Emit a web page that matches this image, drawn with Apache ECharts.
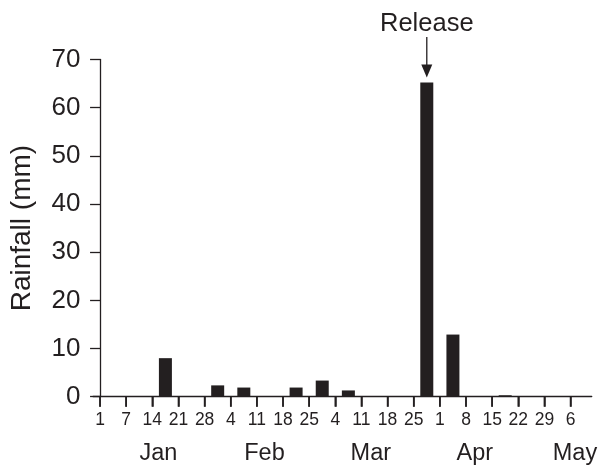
<!DOCTYPE html>
<html>
<head>
<meta charset="utf-8">
<script src="https://cdn.jsdelivr.net/npm/echarts@6/dist/echarts.min.js"></script>
<style>
html,body{margin:0;padding:0;background:#fff;}
#c{width:600px;height:466px;}
</style>
</head>
<body>
<div id="c"></div>
<script>
// Weekly tick labels (day of month at each week boundary)
var tickLabels = ['1','7','14','21','28','4','11','18','25','4','11','18','25','1','8','15','22','29','6'];
// Month names under the day labels
var months = ['Jan','Feb','Mar','Apr','May'];
// Position of each month name, in week-boundary units
var monthAt = [2.23, 6.29, 10.36, 14.34, 18.17];
// Weekly rainfall (mm), one value per week between consecutive ticks
var weeklyRain = [0, 0, 8.0, 0, 2.35, 1.9, 0, 1.9, 3.35, 1.3, 0, 0, 65.2, 12.9, 0, 0.3, 0, 0];
var releaseWeek = 12;
var releaseText = 'Release';

var ink = '#231f20';
var font = '"Liberation Sans", Arial, Helvetica, sans-serif';

var tickIdx = tickLabels.map(function (_, i) { return i; });
var barData = weeklyRain.map(function (v, i) { return [i + 0.5, v]; });
var tickData = tickIdx.map(function (i) { return [i, 0]; });

var chart = echarts.init(document.getElementById('c'), null, {renderer: 'canvas'});
chart.setOption({
  animation: false,
  backgroundColor: '#fff',
  textStyle: {fontFamily: font, color: ink},
  grid: {left: 87.3, right: 4, top: 59.5, bottom: 69.3, containLabel: false},
  xAxis: [{
    type: 'value',
    min: -0.27, max: 18.81,
    splitLine: {show: false},
    axisLine: {show: true, onZero: false, lineStyle: {color: ink, width: 1.3}},
    axisTick: {show: true, inside: false, length: 10, customValues: tickIdx.slice(), lineStyle: {color: ink, width: 1.5}},
    axisLabel: {
      show: true, customValues: tickIdx.slice(), margin: 14,
      fontSize: 17.5, fontFamily: font, color: ink,
      formatter: function (v) { return tickLabels[Math.round(v)]; }
    }
  }, {
    type: 'value',
    position: 'bottom',
    min: -0.27, max: 18.81,
    splitLine: {show: false},
    axisLine: {show: false},
    axisTick: {show: false},
    axisLabel: {
      show: true, customValues: monthAt.slice(), margin: 45,
      fontSize: 23.5, fontFamily: font, color: ink,
      formatter: function (v) {
        var best = 0;
        monthAt.forEach(function (m, k) { if (Math.abs(m - v) < Math.abs(monthAt[best] - v)) best = k; });
        return months[best];
      }
    }
  }],
  yAxis: {
    type: 'value',
    min: 0, max: 70, interval: 10,
    name: 'Rainfall (mm)',
    nameLocation: 'middle',
    nameGap: 57,
    nameTextStyle: {fontSize: 28, fontFamily: font, color: ink},
    splitLine: {show: false},
    axisLine: {show: true, lineStyle: {color: ink, width: 1.3}},
    axisTick: {show: true, inside: false, length: 10, lineStyle: {color: ink, width: 1.3}},
    axisLabel: {fontSize: 26, fontFamily: font, color: ink, margin: 12.5}
  },
  series: [{
    type: 'bar',
    xAxisIndex: 0,
    data: barData,
    barWidth: 13,
    itemStyle: {color: ink}
  }, {
    // week-boundary tick marks hanging below the x axis
    type: 'scatter',
    xAxisIndex: 0,
    data: tickData,
    clip: false,
    silent: true,
    z: 10,
    symbol: 'rect',
    symbolSize: [1.6, 10],
    symbolOffset: [0, 5],
    itemStyle: {color: ink, opacity: 1}
  }]
});

// Release annotation anchored to the release bar
var p = chart.convertToPixel({xAxisIndex: 0, yAxisIndex: 0}, barData[releaseWeek]);
var tipY = p[1] - 5;
var headH = 13, headW = 11;
var lineTop = p[1] - 45.7;
chart.setOption({graphic: [
  {type: 'line', silent: true, shape: {x1: p[0], y1: lineTop, x2: p[0], y2: tipY - headH + 1},
   style: {stroke: ink, lineWidth: 1.3}},
  {type: 'polygon', silent: true,
   shape: {points: [[p[0] - headW / 2, tipY - headH], [p[0] + headW / 2, tipY - headH], [p[0], tipY]]},
   style: {fill: ink}},
  {type: 'text', silent: true, x: p[0], y: lineTop - 13,
   style: {text: releaseText, fontSize: 25.5, fontFamily: font, fill: ink, align: 'center', verticalAlign: 'middle'}}
]});
</script>
</body>
</html>
